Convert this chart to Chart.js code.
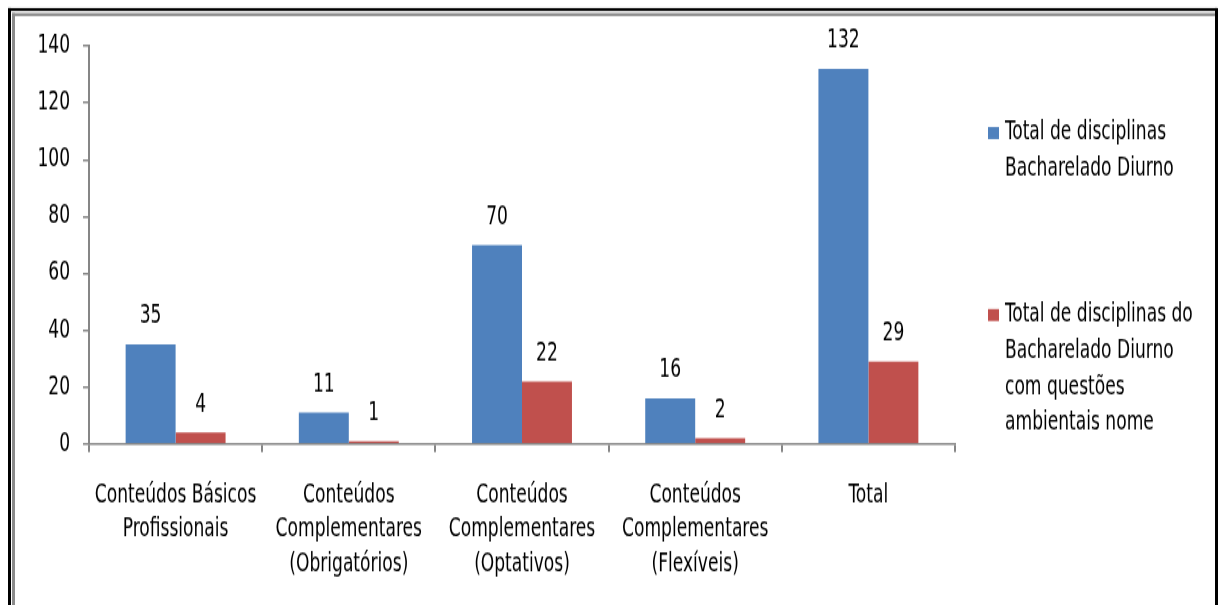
<!DOCTYPE html>
<html>
<head>
<meta charset="utf-8">
<script src="https://cdn.jsdelivr.net/npm/chart.js@4"></script>
<style>
  html, body { margin: 0; padding: 0; background: #fff; }
  #wrap { position: relative; width: 1218px; height: 605px; }
  /* the original picture is stretched vertically, so the canvas is too */
  #chart { width: 1218px !important; height: 605px !important; display: block; }
</style>
</head>
<body>
<div id="wrap"><canvas id="chart" width="1218" height="448"></canvas></div>
<script>
// data
const categories = [
  ["Conteúdos Básicos", "Profissionais"],
  ["Conteúdos", "Complementares", "(Obrigatórios)"],
  ["Conteúdos", "Complementares", "(Optativos)"],
  ["Conteúdos", "Complementares", "(Flexíveis)"],
  "Total"
];
const totalDisciplinas = [35, 11, 70, 16, 132];
const comQuestoes = [4, 1, 22, 2, 29];
const seriesNames = [
  ["Total de disciplinas", "Bacharelado Diurno"],
  ["Total de disciplinas do", "Bacharelado Diurno", "com questões", "ambientais nome"]
];
const yTicks = [0, 20, 40, 60, 80, 100, 120, 140];

const FONT = "'DejaVu Sans Condensed', 'Liberation Sans Narrow', sans-serif";
const axisGray = "#868686";
const S = 605 / 448; // vertical stretch of the canvas

// value labels above bars
const valueLabels = {
  id: "valueLabels",
  afterDatasetsDraw(chart) {
    const ctx = chart.ctx;
    ctx.save();
    ctx.font = "19px " + FONT;
    ctx.fillStyle = "#000";
    ctx.textAlign = "center";
    ctx.textBaseline = "middle";
    chart.data.datasets.forEach((ds, i) => {
      chart.getDatasetMeta(i).data.forEach((bar, j) => {
        ctx.fillText(String(ds.data[j]), bar.x, bar.y - 28 / S);
      });
    });
    ctx.restore();
  }
};

// frame + legend on the right
const frameAndLegend = {
  id: "frameAndLegend",
  beforeDraw(chart) {
    const ctx = chart.ctx;
    const h = chart.height;
    ctx.save();
    ctx.fillStyle = "#fff";
    ctx.fillRect(0, 0, chart.width, h);
    ctx.fillStyle = "#000";
    ctx.fillRect(8, 8 / S, 1209, 3 / S);
    ctx.fillRect(8, 8 / S, 3, h);
    ctx.fillRect(1215, 8 / S, 3, h);
    ctx.fillStyle = "#8c8c8c";
    ctx.fillRect(12, 13 / S, 1203, 3 / S);
    ctx.fillRect(12, 13 / S, 3, h);
    ctx.restore();
  },
  afterDraw(chart) {
    const ctx = chart.ctx;
    ctx.save();
    ctx.font = "19px " + FONT;
    ctx.textBaseline = "middle";
    ctx.textAlign = "left";
    const starts = [133, 315];
    chart.data.datasets.forEach((ds, i) => {
      const y0 = starts[i] / S;
      ctx.fillStyle = ds.backgroundColor;
      ctx.fillRect(988, y0 - 6 / S, 11, 12 / S);
      ctx.fillStyle = "#000";
      seriesNames[i].forEach((line, k) => {
        ctx.fillText(line, 1005, y0 + k * 36 / S);
      });
    });
    ctx.restore();
  }
};

new Chart(document.getElementById("chart"), {
  type: "bar",
  data: {
    labels: categories,
    datasets: [
      { label: seriesNames[0].join(" "), data: totalDisciplinas, backgroundColor: "#4F81BD" },
      { label: seriesNames[1].join(" "), data: comQuestoes, backgroundColor: "#C0504D" }
    ]
  },
  options: {
    responsive: false,
    animation: false,
    devicePixelRatio: 1,
    layout: { padding: { left: 20, top: 46 / S, right: 263, bottom: 0 } },
    datasets: { bar: { categoryPercentage: 0.577, barPercentage: 1.0 } },
    plugins: {
      legend: { display: false },
      tooltip: { enabled: false }
    },
    scales: {
      x: {
        grid: { display: true, drawOnChartArea: false, drawTicks: true, tickLength: 6, color: axisGray, lineWidth: 2, offset: true },
        border: { display: true, color: axisGray, width: 1.5 },
        ticks: { color: "#000", font: { size: 19, family: FONT, lineHeight: 1.36 }, padding: 19, maxRotation: 0, autoSkip: false },
        afterFit(scale) { scale.height = 161 / S; }
      },
      y: {
        min: 0,
        max: 140,
        afterBuildTicks(scale) { scale.ticks = yTicks.map(v => ({ value: v })); },
        grid: { display: true, drawOnChartArea: false, drawTicks: true, tickLength: 6, color: axisGray, lineWidth: 1.5 },
        border: { display: true, color: axisGray, width: 2 },
        ticks: { color: "#000", font: { size: 19, family: FONT }, padding: 13 },
        afterFit(scale) { scale.width = 69; }
      }
    }
  },
  plugins: [valueLabels, frameAndLegend]
});
</script>
</body>
</html>
